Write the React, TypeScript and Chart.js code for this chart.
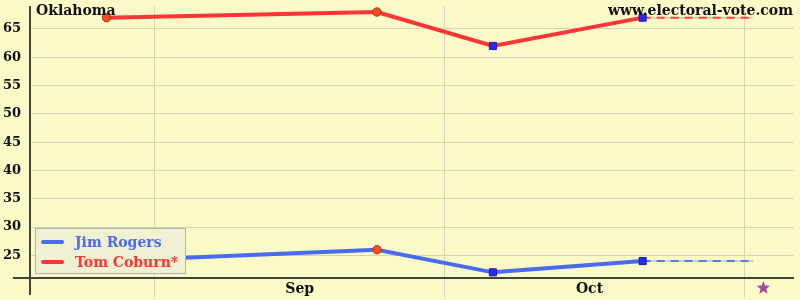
import React, { useEffect, useRef } from 'react';
import { Chart, registerables } from 'chart.js';

Chart.register(...registerables);

// Days counted from Sep 1
const pollDays = [-5, 23, 35, 50.5];
const rogersValues = [24, 26, 22, 24];
const coburnValues = [67, 68, 62, 67];
const markerStyles = ['circle', 'circle', 'rect', 'rect'];
const projectionEndDay = 62;
const electionDay = 63;
const monthBoundaryDays = [0, 30, 61];
const monthLabelDays = [15, 45];
const monthLabels = ['Sep', 'Oct'];
const yTickValues = [25, 30, 35, 40, 45, 50, 55, 60, 65];
const seriesNames = ['Jim Rogers', 'Tom Coburn*'];
const stateName = 'Oklahoma';
const siteName = 'www.electoral-vote.com';

const BLUE = '#4a6af0';
const RED = '#ff3535';
const BG = '#fafac8';
const GRID = '#d6d6b6';
const FONT = '"DejaVu Serif", serif';

export default function App() {
  const ref = useRef<HTMLCanvasElement>(null);

  useEffect(() => {
    document.body.style.margin = '0';
    const canvas = ref.current!;
    const toPts = (vals: number[]) => pollDays.map((x, i) => ({ x, y: vals[i] }));
    const proj = (vals: number[]) => [
      { x: pollDays[pollDays.length - 1], y: vals[vals.length - 1] },
      { x: projectionEndDay, y: vals[vals.length - 1] },
    ];
    const pRadius = markerStyles.map((s) => (s === 'rect' ? 5 : 4.2));
    const pBg = markerStyles.map((s) => (s === 'rect' ? '#2a2aff' : '#ff4a1a'));
    const pBorder = markerStyles.map((s) => (s === 'rect' ? '#1a1aa8' : '#a83a10'));

    const mainLine = (label: string, vals: number[], color: string) => ({
      label,
      data: toPts(vals),
      borderColor: color,
      backgroundColor: color,
      borderWidth: 4,
      pointStyle: markerStyles,
      pointRadius: pRadius,
      pointBackgroundColor: pBg,
      pointBorderColor: pBorder,
      pointBorderWidth: 1,
      order: 1,
    });
    const projUnder = (vals: number[], color: string) => ({
      label: '',
      data: proj(vals),
      borderColor: color,
      borderWidth: 2,
      pointRadius: 0,
      order: 3,
    });
    const projDash = (vals: number[], color: string) => ({
      label: '',
      data: proj(vals),
      borderColor: color,
      borderWidth: 2,
      borderDash: [8, 6],
      pointRadius: 0,
      order: 2,
    });

    const decor = {
      id: 'decor',
      beforeDraw(chart: any) {
        const c = chart.ctx;
        c.save();
        c.fillStyle = BG;
        c.fillRect(0, 0, chart.width, chart.height);
        c.restore();
      },
      afterDraw(chart: any) {
        const c = chart.ctx;
        const a = chart.chartArea;
        const xs = chart.scales.x;
        c.save();
        // axes
        c.strokeStyle = '#444438';
        c.lineWidth = 2;
        c.beginPath();
        c.moveTo(a.left, a.top);
        c.lineTo(a.left, a.bottom + 17);
        c.moveTo(13, a.bottom);
        c.lineTo(a.right, a.bottom);
        c.stroke();
        // titles
        c.fillStyle = '#111';
        c.font = `bold 14px ${FONT}`;
        c.textBaseline = 'alphabetic';
        c.textAlign = 'left';
        c.fillText(stateName, 36, 15);
        c.textAlign = 'right';
        c.fillText(siteName, 793, 15);
        // legend
        const lx = 35, ly = 228, lw = 150, lh = 45;
        c.fillStyle = '#f0f0d2';
        c.fillRect(lx, ly, lw, lh);
        c.strokeStyle = '#b4b4a0';
        c.lineWidth = 1;
        c.strokeRect(lx + 0.5, ly + 0.5, lw, lh);
        const cols = [BLUE, RED];
        c.textAlign = 'left';
        c.textBaseline = 'middle';
        c.font = `bold 14px ${FONT}`;
        seriesNames.forEach((n, i) => {
          const y = ly + 14 + i * 20;
          c.strokeStyle = cols[i];
          c.lineWidth = 4;
          c.lineCap = 'round';
          c.beginPath();
          c.moveTo(lx + 8, y);
          c.lineTo(lx + 27, y);
          c.stroke();
          c.fillStyle = cols[i];
          c.fillText(n, lx + 40, y + 1);
        });
        // election day star
        const sx = xs.getPixelForValue(electionDay);
        const sy = a.bottom + 10;
        c.fillStyle = '#a04c9c';
        c.beginPath();
        for (let k = 0; k < 10; k++) {
          const r = k % 2 === 0 ? 7 : 3;
          const ang = -Math.PI / 2 + (k * Math.PI) / 5;
          const px = sx + r * Math.cos(ang);
          const py = sy + r * Math.sin(ang);
          if (k === 0) c.moveTo(px, py); else c.lineTo(px, py);
        }
        c.closePath();
        c.fill();
        c.restore();
      },
    };

    const gridColor = (ctx: any) =>
      ctx.tick && monthBoundaryDays.includes(ctx.tick.value) ? GRID : 'rgba(0,0,0,0)';

    const chart = new Chart(canvas, {
      type: 'line',
      data: {
        datasets: [
          projUnder(rogersValues, 'rgba(150,160,200,0.45)'),
          projUnder(coburnValues, 'rgba(255,120,120,0.35)'),
          projDash(rogersValues, '#5577ee'),
          projDash(coburnValues, '#ff4444'),
          mainLine(seriesNames[0], rogersValues, BLUE),
          mainLine(seriesNames[1], coburnValues, RED),
        ] as any,
      },
      options: {
        animation: false,
        responsive: false,
        layout: { padding: { top: 6, right: 5, left: 0, bottom: 0 } },
        plugins: { legend: { display: false }, tooltip: { enabled: false }, title: { display: false } },
        scales: {
          x: {
            type: 'linear',
            min: -12.92,
            max: 66.17,
            afterBuildTicks: (s: any) => {
              s.ticks = [...monthBoundaryDays, ...monthLabelDays]
                .sort((p, q) => p - q)
                .map((v) => ({ value: v }));
            },
            afterFit: (s: any) => {
              s.height = 22;
              s.paddingLeft = 0;
              s.paddingRight = 0;
            },
            border: { display: false },
            grid: {
              color: gridColor,
              tickColor: gridColor,
              drawTicks: true,
              tickLength: 19,
              lineWidth: 1,
            },
            ticks: {
              autoSkip: false,
              maxRotation: 0,
              minRotation: 0,
              padding: -16,
              color: '#111',
              font: { family: FONT, size: 14, weight: 'bold' },
              callback: (v: any) => {
                const i = monthLabelDays.indexOf(Number(v));
                return i >= 0 ? monthLabels[i] : '';
              },
            },
          },
          y: {
            type: 'linear',
            min: 21,
            max: 69.06,
            afterBuildTicks: (s: any) => {
              s.ticks = yTickValues.map((v) => ({ value: v }));
            },
            afterFit: (s: any) => {
              s.width = 30;
              s.paddingTop = 0;
              s.paddingBottom = 0;
            },
            border: { display: false },
            grid: { color: GRID, drawTicks: false, lineWidth: 1 },
            ticks: {
              padding: 9,
              color: '#111',
              font: { family: FONT, size: 13, weight: 'bold' },
            },
          },
        },
      } as any,
      plugins: [decor],
    });
    return () => chart.destroy();
  }, []);

  return (
    <div style={{ width: 800, height: 300 }}>
      <canvas ref={ref} width={800} height={300} style={{ display: 'block' }} />
    </div>
  );
}
